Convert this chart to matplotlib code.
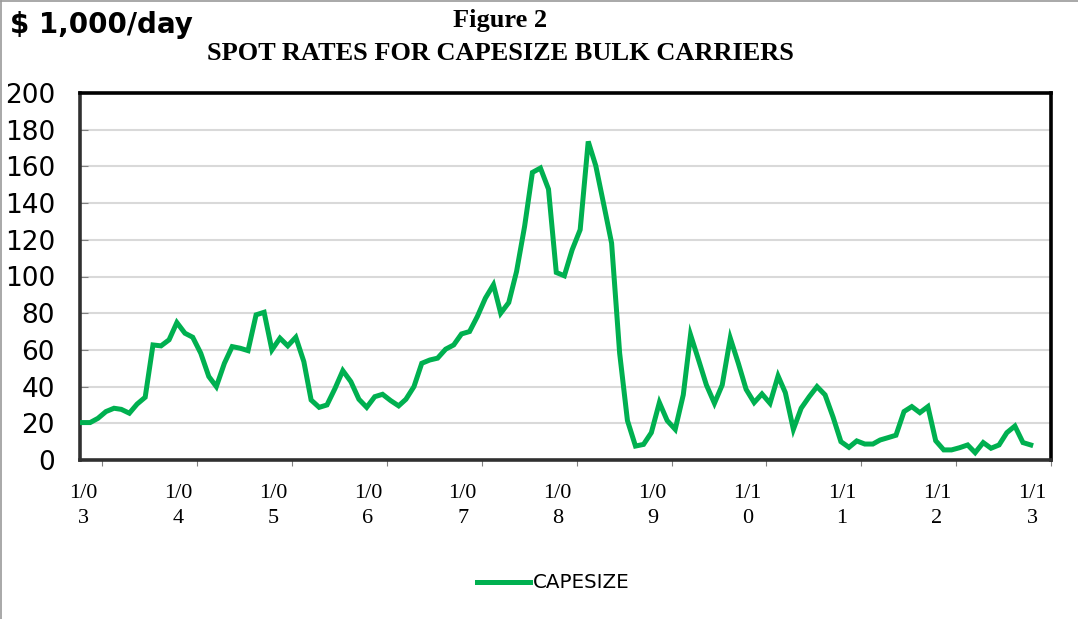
import numpy as np
import pandas as pd
import matplotlib
matplotlib.use("Agg")
import matplotlib.pyplot as plt
from matplotlib.transforms import ScaledTranslation
from matplotlib.lines import Line2D

# Tarifas spot Capesize, $1000/dia, datos mensuales desde oct-2002
capesize = [20.4, 20.4, 22.7, 26.4, 28.2, 27.6, 25.5, 30.5, 34.2, 62.7,
            62.2, 65.5, 74.9, 69.1, 66.9, 58.2, 45.5, 40.0, 52.7, 61.8,
            60.9, 59.6, 79.1, 80.5, 60.0, 66.4, 62.2, 66.9, 53.6, 32.7,
            28.7, 30.0, 39.0, 48.7, 42.7, 33.1, 28.7, 34.5, 35.8, 32.4,
            29.5, 33.1, 40.0, 52.7, 54.5, 55.5, 60.4, 62.7, 68.7, 70.0,
            78.2, 88.2, 95.5, 80.0, 85.8, 102.7, 127.3, 156.7, 159.1, 147.6,
            102.2, 100.4, 114.5, 125.5, 173.6, 160.4, 139.1, 118.2, 58.2, 21.5,
            7.6, 8.5, 14.9, 31.3, 21.5, 16.7, 35.5, 68.2, 54.5, 40.9,
            30.9, 40.9, 66.4, 52.7, 38.5, 31.3, 36.0, 30.9, 45.8, 36.7,
            16.7, 28.2, 34.5, 40.0, 35.5, 23.3, 10.0, 6.9, 10.4, 8.7,
            8.7, 10.9, 12.2, 13.5, 26.4, 29.1, 25.8, 29.1, 10.5, 5.5,
            5.5, 6.7, 8.2, 4.0, 9.5, 6.4, 8.2, 14.9, 18.5, 9.5,
            8.2]
start_month = "2002-10-01"
tick_years = list(range(2003, 2014))
xtick_labels = ["1/0\n3", "1/0\n4", "1/0\n5", "1/0\n6", "1/0\n7", "1/0\n8",
                "1/0\n9", "1/1\n0", "1/1\n1", "1/1\n2", "1/1\n3"]
yticks = list(range(0, 201, 20))

fechas = pd.date_range(start_month, periods=len(capesize), freq="MS") + pd.Timedelta(days=14)

fig = plt.figure(figsize=(10.78, 6.19), dpi=100)
ax = fig.add_axes([80 / 1078, 1 - 460 / 619, 971 / 1078, 367 / 619])

ax.plot(fechas, capesize, color="#00B050", linewidth=3.6, solid_joinstyle="miter",
        label="CAPESIZE", zorder=3)

ax.set_ylim(0, 200)
ax.set_yticks(yticks)
ax.set_xlim(pd.Timestamp("2002-10-07"), pd.Timestamp("2013-01-01"))
ax.set_xticks([pd.Timestamp(f"{y}-01-01") for y in tick_years])
ax.set_xticklabels(xtick_labels, family="Liberation Serif", fontsize=16, linespacing=1.45)
for lab in ax.get_yticklabels():
    lab.set_family("DejaVu Sans")
    lab.set_fontsize(19)

ax.grid(axis="y", color="#d9d9d9", linewidth=1.5)
ax.set_axisbelow(True)
ax.tick_params(axis="y", direction="in", length=6, color="#808080", pad=18)
ax.tick_params(axis="x", direction="out", length=4, color="#808080", pad=13)

# desplazar las etiquetas del eje x hacia la izquierda como en el original
offset = ScaledTranslation(-19 / 100, 0, fig.dpi_scale_trans)
for lab in ax.get_xticklabels():
    lab.set_transform(lab.get_transform() + offset)

for lado in ["top", "right"]:
    ax.spines[lado].set_linewidth(2.6)
    ax.spines[lado].set_color("black")
for lado in ["left", "bottom"]:
    ax.spines[lado].set_linewidth(2.6)
    ax.spines[lado].set_color("#303030")

# titulos
fig.text(10 / 1078, 1 - 25 / 619, "$ 1,000/day", fontsize=20, fontweight="bold",
         family="DejaVu Sans", ha="left", va="center")
fig.text(500 / 1078, 1 - 20 / 619, "Figure 2", fontsize=19, fontweight="bold",
         family="Liberation Serif", ha="center", va="center")
fig.text(500 / 1078, 1 - 53 / 619, "SPOT RATES FOR CAPESIZE BULK CARRIERS", fontsize=19,
         fontweight="bold", family="Liberation Serif", ha="center", va="center")

fig.legend(loc="center", bbox_to_anchor=(553 / 1078, 1 - 583 / 619), frameon=False,
           prop={"family": "DejaVu Sans", "size": 14.3}, handlelength=2.7,
           handletextpad=0.1)

# borde gris de la figura
fig.add_artist(Line2D([0.001, 0.001], [0, 0.998], transform=fig.transFigure, color="#9a9a9a", lw=1.2))
fig.add_artist(Line2D([0.001, 1], [0.998, 0.998], transform=fig.transFigure, color="#9a9a9a", lw=1.2))

plt.savefig("out.png", dpi=100)
